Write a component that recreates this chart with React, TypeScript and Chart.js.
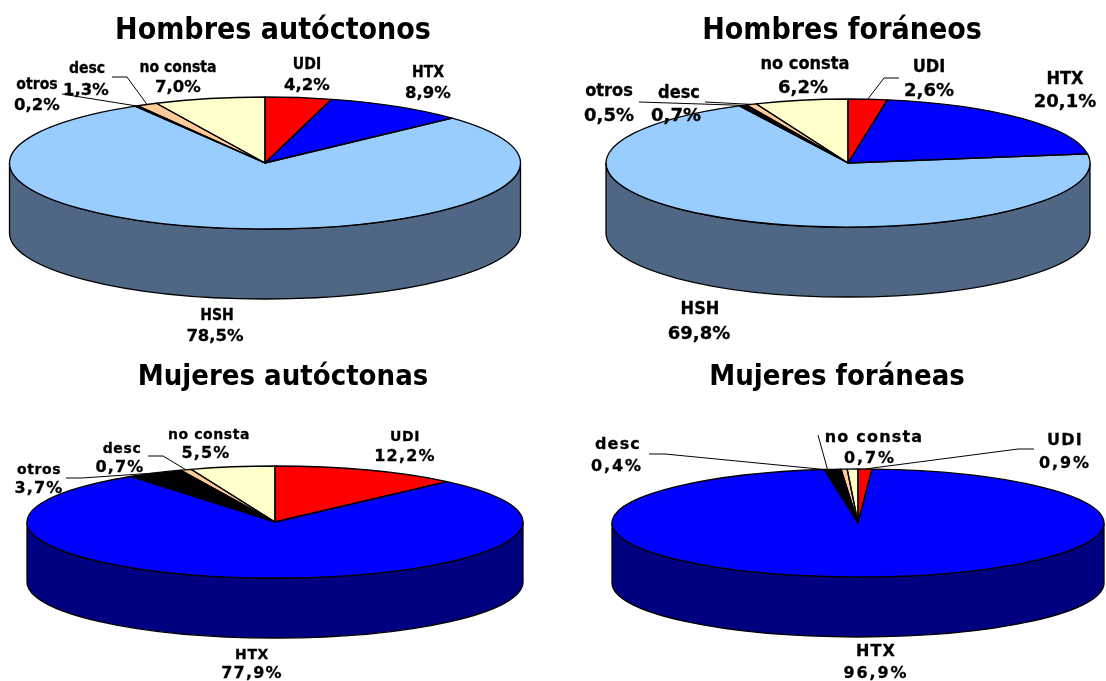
import { useEffect, useRef } from "react";
import { Chart, registerables } from "chart.js";

Chart.register(...registerables);

// Transmission groups, clockwise from twelve o'clock
const categories = ["UDI", "HTX", "HSH", "otros", "desc", "no consta"];
const categoriesNoHsh = ["UDI", "HTX", "otros", "desc", "no consta"];

const hombresAutoctonos = [4.2, 8.9, 78.5, 0.2, 1.3, 7.0];
const hombresForaneos = [2.6, 20.1, 69.8, 0.5, 0.7, 6.2];
const mujeresAutoctonas = [12.2, 77.9, 3.7, 0.7, 5.5];
const mujeresForaneas = [0.9, 96.9, 1.1, 0.4, 0.7];

const palette: Record<string, string> = {
  UDI: "#FF0000",
  HTX: "#0000FF",
  HSH: "#99CCFF",
  otros: "#000000",
  desc: "#FFCC99",
  "no consta": "#FFFFCC",
};
const sidePalette: Record<string, string> = {
  UDI: "#800000",
  HTX: "#000080",
  HSH: "#4F6785",
  otros: "#000000",
  desc: "#806650",
  "no consta": "#808066",
};

type Slot = {
  name: [number, number];
  value: [number, number];
  leader?: [number, number][];
  // Slice and fraction across it where the leader meets the rim (default: own middle)
  anchor?: [string, number];
};

type PanelSpec = {
  title: string;
  categories: string[];
  values: number[];
  box: { left: number; top: number; width: number; height: number };
  titleSize: number;
  titleY: number;
  pie: { cx: number; cy: number; rx: number; ry: number; depth: number };
  nameFont: { family: string; size: number; spacing: string };
  valueFont: { size: number; spacing: string };
  slots: Record<string, Slot | undefined>;
};

const CONDENSED = '"DejaVu Sans Condensed", "DejaVu Sans", sans-serif';
const WIDE = '"DejaVu Sans", sans-serif';

const panels: PanelSpec[] = [
  {
    title: "Hombres autóctonos",
    categories,
    values: hombresAutoctonos,
    box: { left: 0, top: 0, width: 546, height: 345 },
    titleSize: 30,
    titleY: 31,
    pie: { cx: 265, cy: 163, rx: 255.5, ry: 66, depth: 70 },
    nameFont: { family: CONDENSED, size: 15.6, spacing: "0px" },
    valueFont: { size: 16.5, spacing: "0px" },
    slots: {
      UDI: { name: [307, 64], value: [307, 85] },
      HTX: { name: [428, 72], value: [428, 93] },
      HSH: { name: [217, 315], value: [215, 336] },
      otros: { name: [37, 84], value: [37, 105], leader: [[62, 94]] },
      desc: { name: [87, 68], value: [86, 90], leader: [[112, 77], [127, 77]] },
      "no consta": { name: [178, 67], value: [178, 87] },
    },
  },
  {
    title: "Hombres foráneos",
    categories,
    values: hombresForaneos,
    box: { left: 578, top: 0, width: 528, height: 345 },
    titleSize: 30,
    titleY: 31,
    pie: { cx: 848, cy: 163, rx: 242, ry: 64, depth: 70 },
    nameFont: { family: CONDENSED, size: 18, spacing: "0px" },
    valueFont: { size: 18, spacing: "0px" },
    slots: {
      UDI: { name: [929, 66], value: [929, 90], leader: [[899, 78], [884, 78]] },
      HTX: { name: [1065, 78], value: [1065, 101] },
      HSH: { name: [700, 308], value: [699, 333] },
      otros: { name: [609, 90], value: [609, 115], leader: [[639, 102]] },
      desc: { name: [679, 92], value: [676, 115], leader: [[705, 102]] },
      "no consta": { name: [805, 63], value: [803, 87] },
    },
  },
  {
    title: "Mujeres autóctonas",
    categories: categoriesNoHsh,
    values: mujeresAutoctonas,
    box: { left: 0, top: 345, width: 566, height: 336 },
    titleSize: 29,
    titleY: 377,
    pie: { cx: 275, cy: 522, rx: 248, ry: 56, depth: 60 },
    nameFont: { family: WIDE, size: 14, spacing: "0.6px" },
    valueFont: { size: 16, spacing: "1.2px" },
    slots: {
      UDI: { name: [405, 436], value: [405, 456] },
      HTX: { name: [252, 654], value: [252, 673] },
      otros: { name: [39, 469], value: [39, 488], leader: [[66, 478], [82, 478]] },
      desc: { name: [122, 448], value: [120, 467], leader: [[148, 456], [163, 456]] },
      "no consta": { name: [209, 434], value: [206, 453] },
    },
  },
  {
    title: "Mujeres foráneas",
    categories: categoriesNoHsh,
    values: mujeresForaneas,
    box: { left: 568, top: 345, width: 538, height: 336 },
    titleSize: 29,
    titleY: 377,
    pie: { cx: 858, cy: 523, rx: 246, ry: 54, depth: 60 },
    nameFont: { family: WIDE, size: 16, spacing: "1.2px" },
    valueFont: { size: 16, spacing: "1.9px" },
    slots: {
      UDI: { name: [1065, 440], value: [1065, 463], leader: [[1034, 449], [1018, 449]] },
      HTX: { name: [876, 651], value: [876, 673] },
      desc: { name: [618, 444], value: [617, 466], leader: [[649, 454], [665, 454]], anchor: ["otros", 0] },
      "no consta": { name: [874, 437], value: [870, 458], leader: [[818, 435]], anchor: ["otros", 0.2] },
    },
  },
];

const formatPercent = (v: number) => v.toFixed(1).replace(".", ",") + "%";

// Draws a Chart.js pie as a tilted disc: the side wall goes under the arcs,
// the arcs are flattened by a canvas transform, and labels sit on top.
function discPlugin(spec: PanelSpec) {
  const { left, top } = spec.box;
  const cx = spec.pie.cx - left;
  const cy = spec.pie.cy - top;
  const { rx, ry, depth } = spec.pie;

  // The "middle" baseline sits slightly above the optical centre of the digits
  const drawText = (ctx: CanvasRenderingContext2D, text: string, x: number, y: number) => {
    ctx.strokeText(text, x - left, y - top + 1);
    ctx.fillText(text, x - left, y - top + 1);
  };

  return {
    id: "disc",
    beforeDatasetsDraw(chart: any) {
      const ctx: CanvasRenderingContext2D = chart.ctx;
      const arcs = chart.getDatasetMeta(0).data;
      ctx.save();
      ctx.lineWidth = 1.3;
      ctx.strokeStyle = "#000";
      arcs.forEach((arc: any, i: number) => {
        const s = Math.max(arc.startAngle, 0);
        const e = Math.min(arc.endAngle, Math.PI);
        if (e <= s) return;
        ctx.beginPath();
        ctx.ellipse(cx, cy, rx, ry, 0, s, e, false);
        ctx.ellipse(cx, cy + depth, rx, ry, 0, e, s, true);
        ctx.closePath();
        ctx.fillStyle = sidePalette[spec.categories[i]];
        ctx.fill();
        ctx.stroke();
      });
      ctx.restore();

      const first = arcs[0];
      ctx.save();
      ctx.translate(cx, cy);
      ctx.scale(1, ry / rx);
      ctx.translate(-first.x, -first.y);
    },
    afterDatasetsDraw(chart: any) {
      const ctx: CanvasRenderingContext2D = chart.ctx;
      ctx.restore();
      ctx.save();
      ctx.lineWidth = 1.3;
      ctx.strokeStyle = "#000";
      ctx.lineJoin = "round";
      chart.getDatasetMeta(0).data.forEach((arc: any) => {
        ctx.beginPath();
        ctx.moveTo(cx, cy);
        ctx.ellipse(cx, cy, rx, ry, 0, arc.startAngle, arc.endAngle, false);
        ctx.closePath();
        ctx.stroke();
      });
      ctx.restore();
    },
    afterDraw(chart: any) {
      const ctx: CanvasRenderingContext2D = chart.ctx;
      const arcs = chart.getDatasetMeta(0).data;
      ctx.save();
      spec.categories.forEach((cat) => {
        const slot = spec.slots[cat];
        if (!slot || !slot.leader) return;
        const [anchorCat, t] = slot.anchor ?? [cat, 0.5];
        const target = arcs[spec.categories.indexOf(anchorCat)];
        const angle = target.startAngle + (target.endAngle - target.startAngle) * t;
        ctx.beginPath();
        slot.leader.forEach(([x, y], j) => {
          if (j === 0) ctx.moveTo(x - left, y - top);
          else ctx.lineTo(x - left, y - top);
        });
        ctx.lineTo(cx + rx * Math.cos(angle), cy + ry * Math.sin(angle));
        ctx.lineWidth = 1;
        ctx.strokeStyle = "#000";
        ctx.stroke();
      });

      ctx.fillStyle = "#000";
      ctx.strokeStyle = "#000";
      ctx.lineWidth = 0.3;
      ctx.textAlign = "center";
      ctx.textBaseline = "middle";
      ctx.font = `bold ${spec.nameFont.size}px ${spec.nameFont.family}`;
      (ctx as any).letterSpacing = spec.nameFont.spacing;
      spec.categories.forEach((cat) => {
        const slot = spec.slots[cat];
        if (slot) drawText(ctx, cat, slot.name[0], slot.name[1]);
      });
      ctx.font = `bold ${spec.valueFont.size}px ${WIDE}`;
      (ctx as any).letterSpacing = spec.valueFont.spacing;
      spec.categories.forEach((cat, i) => {
        const slot = spec.slots[cat];
        if (slot) drawText(ctx, formatPercent(spec.values[i]), slot.value[0], slot.value[1]);
      });
      ctx.restore();
    },
  };
}

function DiscPanel({ spec }: { spec: PanelSpec }) {
  const ref = useRef<HTMLCanvasElement>(null);

  useEffect(() => {
    const lineHeight = spec.titleSize * 1.2;
    const chart = new Chart(ref.current!, {
      type: "pie",
      data: {
        labels: spec.categories,
        datasets: [
          {
            data: spec.values,
            backgroundColor: spec.categories.map((c) => palette[c]),
            borderWidth: 0,
            clip: false,
          } as any,
        ],
      },
      options: {
        animation: false,
        responsive: false,
        radius: spec.pie.rx,
        plugins: {
          legend: { display: false },
          tooltip: { enabled: false },
          title: {
            display: true,
            text: spec.title,
            color: "#000",
            font: { family: CONDENSED, size: spec.titleSize, weight: "bold" },
            padding: { top: spec.titleY - spec.box.top - lineHeight / 2, bottom: 0 },
          },
        },
      } as any,
      plugins: [discPlugin(spec) as any],
    });
    return () => chart.destroy();
  }, [spec]);

  return (
    <canvas
      ref={ref}
      width={spec.box.width}
      height={spec.box.height}
      style={{
        position: "absolute",
        left: spec.box.left,
        top: spec.box.top,
        width: spec.box.width,
        height: spec.box.height,
      }}
    />
  );
}

export default function App() {
  return (
    <>
      {panels.map((p) => (
        <DiscPanel key={p.title} spec={p} />
      ))}
    </>
  );
}
